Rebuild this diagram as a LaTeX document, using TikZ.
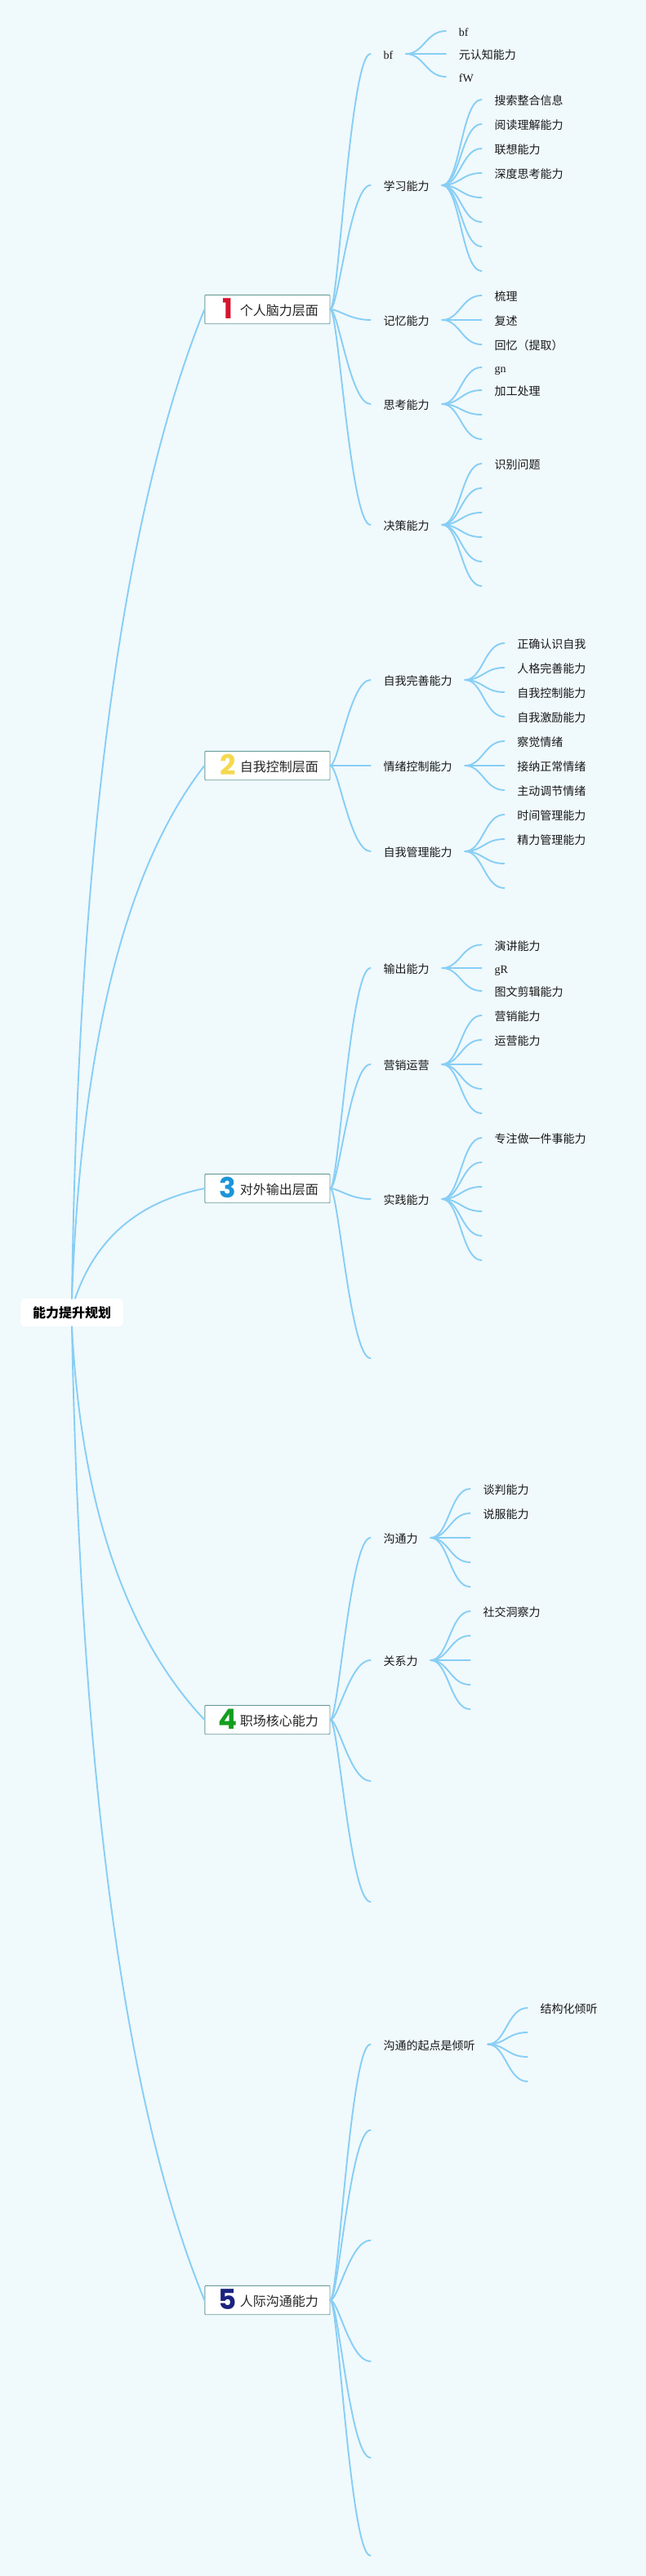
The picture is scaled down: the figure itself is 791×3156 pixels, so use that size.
\documentclass[tikz,border=0pt]{standalone}
\usepackage{fontspec}
\setmainfont{Noto Sans CJK SC}
\newfontfamily\latinf{Liberation Serif}
\newfontfamily\numf{Poppins}[BoldFont={Poppins Bold}]
\usetikzlibrary{calc}
\definecolor{bgc}{RGB}{240,249,252}
\definecolor{linec}{RGB}{135,206,245}
\definecolor{boxc}{RGB}{106,158,154}
\definecolor{numa}{RGB}{214,20,46}
\definecolor{numb}{RGB}{245,217,78}
\definecolor{numc}{RGB}{27,149,216}
\definecolor{numd}{RGB}{20,158,30}
\definecolor{nume}{RGB}{26,35,126}
\tikzset{
  conn/.style={draw=linec,line width=1.9pt,line cap=round},
  rootbox/.style={fill=white,rounded corners=6pt,minimum width=126pt,minimum height=34pt,inner sep=0pt,font=\fontsize{16}{16}\selectfont\bfseries,text=black},
  lvbox/.style={draw=boxc,line width=.9pt,fill=white,rounded corners=1pt,minimum width=153.2pt,minimum height=35.4pt,inner sep=0pt,text height=16.5pt,text depth=1.5pt,font=\fontsize{16}{16}\selectfont,text=black!85},
  lvtext/.style={anchor=west,inner xsep=15.7pt,inner ysep=0pt,text height=14pt,text depth=1pt,font=\fontsize{14}{14}\selectfont,text=black!90},
}
\newcommand{\boxlabel}[2]{\makebox[153.2pt][l]{\hspace{16pt}\makebox[24pt]{\raisebox{-3.5pt}{\fontsize{34}{34}\numf\bfseries\textcolor{#1}{#2}}}\hspace{3pt}}}
\newcommand{\lvbox}[5]{\node[lvbox] (#1) at (327.4,#2) {\boxlabel{#3}{#4}\llap{\makebox[110.2pt][l]{#5}}};}
\newcommand{\qlink}[3]{\draw[conn] (#1) .. controls ($(#1)!.6667!(#2)$) and ($(#3)!.6667!(#2)$) .. (#3);}
\newcommand{\linkA}[2]{\draw[conn] let \p1=(#1),\p2=(#2) in (\p1) .. controls ({.8*\x1+.2*\x2},\y1) and ({.5*\x1+.5*\x2},\y2) .. (\p2);}
\newcommand{\linkB}[2]{\draw[conn] let \p1=(#1),\p2=(#2) in (\p1) .. controls ({.55*\x1+.45*\x2},\y1) and ({.5*\x1+.5*\x2},\y2) .. (\p2);}
\newcommand{\lvnode}[4]{\node[lvtext] (#1) at (#2,#3) {#4};}
\begin{document}
\begin{tikzpicture}[x=1pt,y=-1pt]
\useasboundingbox (0,0) rectangle (791,3156);
\fill[bgc] (0,0) rectangle (791,3156);

% root and first level
\node[rootbox] (root) at (88,1608) {能力提升规划};
\coordinate (ca) at (100,751);
\coordinate (cb) at (105,1125);
\coordinate (cc) at (130,1480);
\coordinate (cd) at (105,1952);
\coordinate (ce) at (105,2465);
\coordinate (roott) at ($(root.north)+(4,0)$);
\lvbox{boxa}{379}{numa}{1}{个人脑力层面}
\lvbox{boxb}{938}{numb}{2}{自我控制层面}
\lvbox{boxc}{1456}{numc}{3}{对外输出层面}
\lvbox{boxd}{2107}{numd}{4}{职场核心能力}
\lvbox{boxe}{2818}{nume}{5}{人际沟通能力}
\qlink{root.north}{ca}{boxa.west}
\qlink{root.north}{cb}{boxb.west}
\qlink{roott}{cc}{boxc.west}
\qlink{root.south}{cd}{boxd.west}
\qlink{root.south}{ce}{boxe.west}

% box 1
\lvnode{bf}{453.6}{66}{\latinf bf}
\lvnode{xx}{453.6}{227}{学习能力}
\lvnode{jy}{453.6}{392}{记忆能力}
\lvnode{sk}{453.6}{495}{思考能力}
\lvnode{jc}{453.6}{643}{决策能力}
\foreach \kid in {bf,xx,jy,sk,jc}{\linkA{boxa.east}{\kid.west}}
\lvnode{bfa}{546}{38}{\latinf bf}
\lvnode{bfb}{546}{66}{元认知能力}
\lvnode{bfc}{546}{94}{\latinf fW}
\foreach \kid in {bfa,bfb,bfc}{\linkB{bf.east}{\kid.west}}
\lvnode{xxa}{589.6}{122}{搜索整合信息}
\lvnode{xxb}{589.6}{152}{阅读理解能力}
\lvnode{xxc}{589.6}{182}{联想能力}
\lvnode{xxd}{589.6}{212}{深度思考能力}
\foreach \kid in {xxa,xxb,xxc,xxd}{\linkB{xx.east}{\kid.west}}
\coordinate (xxe) at (589.6,242);
\coordinate (xxf) at (589.6,272);
\coordinate (xxg) at (589.6,302);
\coordinate (xxh) at (589.6,332);
\foreach \kid in {xxe,xxf,xxg,xxh}{\linkB{xx.east}{\kid}}
\lvnode{jya}{589.6}{362}{梳理}
\lvnode{jyb}{589.6}{392}{复述}
\lvnode{jyc}{589.6}{422}{回忆（提取）}
\foreach \kid in {jya,jyb,jyc}{\linkB{jy.east}{\kid.west}}
\lvnode{ska}{589.6}{450}{\latinf gn}
\lvnode{skb}{589.6}{478}{加工处理}
\foreach \kid in {ska,skb}{\linkB{sk.east}{\kid.west}}
\coordinate (skc) at (589.6,508);
\coordinate (skd) at (589.6,538);
\foreach \kid in {skc,skd}{\linkB{sk.east}{\kid}}
\lvnode{jca}{589.6}{568}{识别问题}
\linkB{jc.east}{jca.west}
\coordinate (jcb) at (589.6,598);
\coordinate (jcc) at (589.6,628);
\coordinate (jcd) at (589.6,658);
\coordinate (jce) at (589.6,688);
\coordinate (jcf) at (589.6,718);
\foreach \kid in {jcb,jcc,jcd,jce,jcf}{\linkB{jc.east}{\kid}}

% box 2
\lvnode{ws}{453.6}{833}{自我完善能力}
\lvnode{qx}{453.6}{938}{情绪控制能力}
\lvnode{gl}{453.6}{1043}{自我管理能力}
\foreach \kid in {ws,qx,gl}{\linkA{boxb.east}{\kid.west}}
\lvnode{wsa}{617.5}{788}{正确认识自我}
\lvnode{wsb}{617.5}{818}{人格完善能力}
\lvnode{wsc}{617.5}{848}{自我控制能力}
\lvnode{wsd}{617.5}{878}{自我激励能力}
\foreach \kid in {wsa,wsb,wsc,wsd}{\linkB{ws.east}{\kid.west}}
\lvnode{qxa}{617.5}{908}{察觉情绪}
\lvnode{qxb}{617.5}{938}{接纳正常情绪}
\lvnode{qxc}{617.5}{968}{主动调节情绪}
\foreach \kid in {qxa,qxb,qxc}{\linkB{qx.east}{\kid.west}}
\lvnode{gla}{617.5}{998}{时间管理能力}
\lvnode{glb}{617.5}{1028}{精力管理能力}
\foreach \kid in {gla,glb}{\linkB{gl.east}{\kid.west}}
\coordinate (glc) at (617.5,1058);
\coordinate (gld) at (617.5,1088);
\foreach \kid in {glc,gld}{\linkB{gl.east}{\kid}}

% box 3
\lvnode{sc}{453.6}{1186}{输出能力}
\lvnode{yx}{453.6}{1304}{营销运营}
\lvnode{sj}{453.6}{1469}{实践能力}
\foreach \kid in {sc,yx,sj}{\linkA{boxc.east}{\kid.west}}
\coordinate (cempty) at (453.6,1664);
\linkA{boxc.east}{cempty}
\lvnode{sca}{589.6}{1157.5}{演讲能力}
\lvnode{scb}{589.6}{1186}{\latinf gR}
\lvnode{scc}{589.6}{1214}{图文剪辑能力}
\foreach \kid in {sca,scb,scc}{\linkB{sc.east}{\kid.west}}
\lvnode{yxa}{589.6}{1244}{营销能力}
\lvnode{yxb}{589.6}{1274}{运营能力}
\foreach \kid in {yxa,yxb}{\linkB{yx.east}{\kid.west}}
\coordinate (yxc) at (589.6,1304);
\coordinate (yxd) at (589.6,1334);
\coordinate (yxe) at (589.6,1364);
\foreach \kid in {yxc,yxd,yxe}{\linkB{yx.east}{\kid}}
\lvnode{sja}{589.6}{1394}{专注做一件事能力}
\linkB{sj.east}{sja.west}
\coordinate (sjb) at (589.6,1424);
\coordinate (sjc) at (589.6,1454);
\coordinate (sjd) at (589.6,1484);
\coordinate (sje) at (589.6,1514);
\coordinate (sjf) at (589.6,1544);
\foreach \kid in {sjb,sjc,sjd,sje,sjf}{\linkB{sj.east}{\kid}}

% box 4
\lvnode{gt}{453.6}{1884}{沟通力}
\lvnode{gx}{453.6}{2034}{关系力}
\foreach \kid in {gt,gx}{\linkA{boxd.east}{\kid.west}}
\coordinate (dea) at (453.6,2182);
\coordinate (deb) at (453.6,2330);
\foreach \kid in {dea,deb}{\linkA{boxd.east}{\kid}}
\lvnode{gta}{575.6}{1824}{谈判能力}
\lvnode{gtb}{575.6}{1854}{说服能力}
\foreach \kid in {gta,gtb}{\linkB{gt.east}{\kid.west}}
\coordinate (gtc) at (575.6,1884);
\coordinate (gtd) at (575.6,1914);
\coordinate (gte) at (575.6,1944);
\foreach \kid in {gtc,gtd,gte}{\linkB{gt.east}{\kid}}
\lvnode{gxa}{575.6}{1974}{社交洞察力}
\linkB{gx.east}{gxa.west}
\coordinate (gxb) at (575.6,2004);
\coordinate (gxc) at (575.6,2034);
\coordinate (gxd) at (575.6,2064);
\coordinate (gxe) at (575.6,2094);
\foreach \kid in {gxb,gxc,gxd,gxe}{\linkB{gx.east}{\kid}}

% box 5
\lvnode{qd}{453.6}{2504.6}{沟通的起点是倾听}
\linkA{boxe.east}{qd.west}
\coordinate (eea) at (453.6,2609.7);
\coordinate (eeb) at (453.6,2744.7);
\coordinate (eec) at (453.6,2893);
\coordinate (eed) at (453.6,3011);
\coordinate (eee) at (453.6,3131);
\foreach \kid in {eea,eeb,eec,eed,eee}{\linkA{boxe.east}{\kid}}
\lvnode{qda}{645.7}{2460}{结构化倾听}
\linkB{qd.east}{qda.west}
\coordinate (qdb) at (645.7,2490);
\coordinate (qdc) at (645.7,2520);
\coordinate (qdd) at (645.7,2550);
\foreach \kid in {qdb,qdc,qdd}{\linkB{qd.east}{\kid}}
\end{tikzpicture}
\end{document}
